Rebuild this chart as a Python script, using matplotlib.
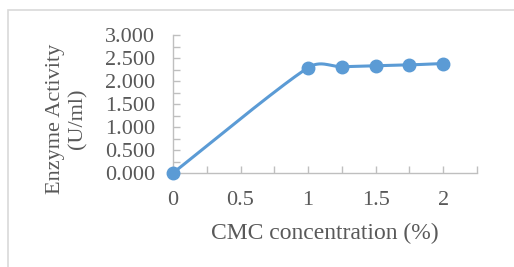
import numpy as np
import matplotlib
matplotlib.use("Agg")
import matplotlib.pyplot as plt
from matplotlib.patches import Rectangle
from matplotlib.ticker import MultipleLocator, FuncFormatter

cmc_conc = [0, 1, 1.25, 1.5, 1.75, 2]
enzyme_activity = [0.0, 2.29, 2.31, 2.33, 2.35, 2.38]
x_label = "CMC concentration (%)"
y_label = "Enzyme Activity\n(U/ml)"

LINE = "#5B9BD5"
TXT = "#595959"
GRID = "#D9D9D9"

plt.rcParams['font.family'] = ['Liberation Serif', 'DejaVu Serif']

fig = plt.figure(figsize=(5.14, 2.67), dpi=100)
fig.patches.append(Rectangle((8/514, -0.1), 1.2, (257/267) + 0.1, transform=fig.transFigure,
                             fill=False, edgecolor=GRID, linewidth=1.2))

ax = fig.add_axes([173/514, (267-173)/267, (477-173)/514, (173-35)/267])
ax.set_xlim(0, 2.25)
ax.set_ylim(0, 3.0)

for s in ['top', 'right']:
    ax.spines[s].set_visible(False)
for s in ['left', 'bottom']:
    ax.spines[s].set_color("#BFBFBF")
    ax.spines[s].set_linewidth(1.0)

ax.xaxis.set_major_locator(MultipleLocator(0.5))
ax.xaxis.set_minor_locator(MultipleLocator(0.25))
ax.yaxis.set_major_locator(MultipleLocator(0.5))
ax.yaxis.set_minor_locator(MultipleLocator(0.25))
ax.xaxis.set_major_formatter(FuncFormatter(lambda v, p: f"{v:g}" if v <= 2.0 else ""))
ax.yaxis.set_major_formatter(FuncFormatter(lambda v, p: f"{v:.3f}"))
ax.tick_params(axis='both', which='both', direction='in', color="#BFBFBF",
               length=5, width=1.0, labelcolor=TXT, labelsize=16)
ax.tick_params(axis='x', which='major', pad=13)
ax.tick_params(axis='y', which='major', pad=13)

# smooth curve (Excel-like bezier through points, computed in display space)
pts = ax.transData.transform(np.column_stack([cmc_conc, enzyme_activity]))
n = len(pts)
curve = []
for i in range(n - 1):
    p0 = pts[i - 1] if i > 0 else pts[i]
    p1 = pts[i]
    p2 = pts[i + 1]
    p3 = pts[i + 2] if i + 2 < n else pts[i + 1]
    seglen = np.linalg.norm(p2 - p1)
    d1 = (p2 - p0) / 6
    d2 = (p3 - p1) / 6
    lim = 0.45 * seglen
    if np.linalg.norm(d1) > lim:
        d1 = d1 / np.linalg.norm(d1) * lim
    if np.linalg.norm(d2) > lim:
        d2 = d2 / np.linalg.norm(d2) * lim
    c1 = p1 + d1
    c2 = p2 - d2
    t = np.linspace(0, 1, 40)[:, None]
    seg = ((1 - t) ** 3) * p1 + 3 * ((1 - t) ** 2) * t * c1 + 3 * (1 - t) * t ** 2 * c2 + t ** 3 * p2
    curve.append(seg if i == 0 else seg[1:])
curve = np.vstack(curve)
curve_data = ax.transData.inverted().transform(curve)
ax.plot(curve_data[:, 0], curve_data[:, 1], color=LINE, linewidth=2.2, clip_on=False,
        solid_capstyle='round')
ax.plot(cmc_conc, enzyme_activity, linestyle='none', marker='o', markersize=9,
        color=LINE, clip_on=False, zorder=5)

fig.text(325/514, 1 - 233/267, x_label, ha='center', va='center', color=TXT, fontsize=17)
fig.text(67/514, 1 - 119/267, y_label, ha='center', va='center', color=TXT, fontsize=16,
         rotation=90, linespacing=1.25, multialignment='center')

fig.savefig("out.png", dpi=100)
